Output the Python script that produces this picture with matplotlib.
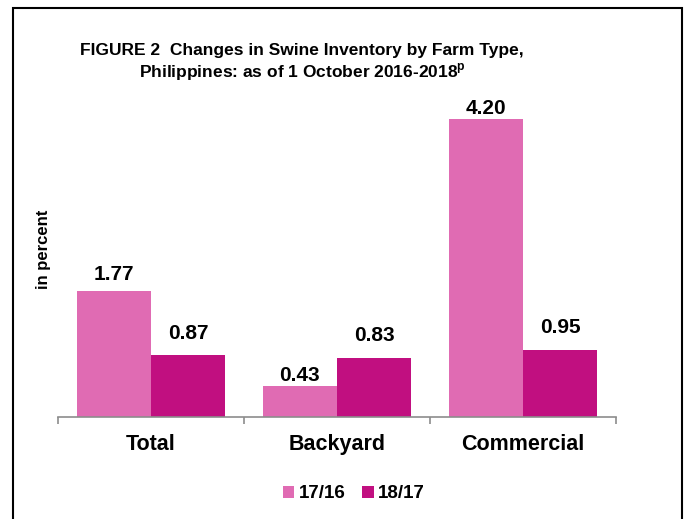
import matplotlib
matplotlib.use("Agg")
import matplotlib.pyplot as plt
import numpy as np
from matplotlib.patches import Rectangle

plt.rcParams['font.family'] = ['Liberation Sans', 'DejaVu Sans']
plt.rcParams['mathtext.fontset'] = 'custom'
plt.rcParams['mathtext.bf'] = 'Liberation Sans:bold'

categories = ["Total", "Backyard", "Commercial"]
series_names = ["17/16", "18/17"]
values_1716 = [1.77, 0.43, 4.20]
values_1817 = [0.87, 0.83, 0.95]
colors = ["#E06BB3", "#C10F80"]

W, H = 686, 519
fig = plt.figure(figsize=(W / 100, H / 100), dpi=100)
ax = fig.add_axes([58 / W, 1 - 417 / H, (616 - 58) / W, (417 - 97.5) / H])

x = np.arange(len(categories))
bw = 0.4
b1 = ax.bar(x - bw / 2, values_1716, bw, color=colors[0], label=series_names[0])
b2 = ax.bar(x + bw / 2, values_1817, bw, color=colors[1], label=series_names[1])
label_gaps = ([8.0, 3.6, 3.6], [11.7, 12.0, 12.0])  # points above bar end
for bars, vals, gaps in ((b1, values_1716, label_gaps[0]), (b2, values_1817, label_gaps[1])):
    for r, v, g in zip(bars, vals, gaps):
        ax.annotate(f"{v:.2f}", (r.get_x() + r.get_width() / 2, v), xytext=(0, g),
                    textcoords="offset points", ha="center", va="baseline",
                    fontsize=15, fontweight="bold")

ax.set_xlim(-0.5, 2.5)
ax.set_ylim(0, 4.5)
ax.set_yticks([])
for s in ("top", "right", "left"):
    ax.spines[s].set_visible(False)
ax.spines["bottom"].set_color("#8c8c8c")
ax.spines["bottom"].set_linewidth(1.2)
ax.set_xticks([-0.5, 0.5, 1.5, 2.5])
ax.set_xticklabels([])
ax.tick_params(axis="x", direction="out", length=5, color="#8c8c8c", width=1.2)
ax.set_xticks(x, minor=True)
ax.set_xticklabels(categories, minor=True, fontsize=15.5, fontweight="bold")
ax.tick_params(axis="x", which="minor", length=0, pad=12)

fig.text(43 / W, 1 - 249 / H, "in percent", rotation=90, ha="center", va="center",
         fontsize=12, fontweight="bold")

fig.text(302 / W, 1 - 50 / H, "FIGURE 2  Changes in Swine Inventory by Farm Type,",
         ha="center", va="center", fontsize=12.5, fontweight="bold")
fig.text(302 / W, 1 - 72 / H, r"Philippines: as of 1 October 2016-2018$^{\mathbf{p}}$",
         ha="center", va="center", fontsize=12.5, fontweight="bold")

leg = fig.legend(loc="center", bbox_to_anchor=(354 / W, 1 - 494 / H), ncol=2, frameon=False,
                 prop={"weight": "bold", "size": 13.5}, handlelength=0.6, handleheight=0.6,
                 handletextpad=0.25, columnspacing=0.9)

fig.patches.append(Rectangle((13 / W, -0.02), (682 - 13) / W, (1 - 8 / H) + 0.02,
                             transform=fig.transFigure, fill=False, edgecolor="black",
                             linewidth=1.5))

fig.savefig("out.png", dpi=100)
